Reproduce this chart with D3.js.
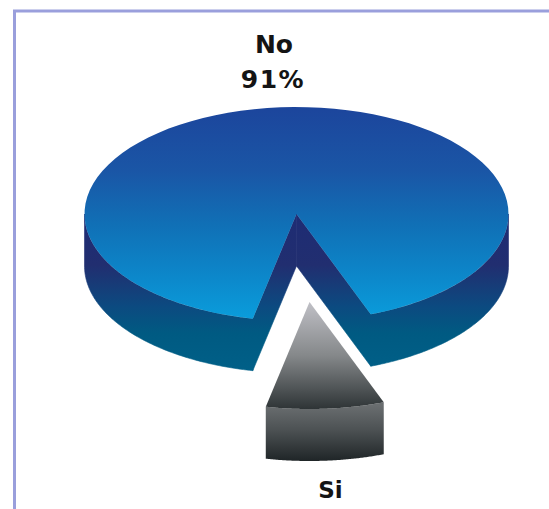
<!DOCTYPE html>
<html>
<head>
<meta charset="utf-8">
<style>
html,body{margin:0;padding:0;background:#fff}
svg{display:block}
text{font-family:"DejaVu Sans",Verdana,sans-serif;font-weight:700;fill:#141414}
</style>
<script src="https://cdn.jsdelivr.net/npm/d3@7/dist/d3.min.js"></script>
</head>
<body>
<svg id="chart" width="549" height="509"></svg>
<script>
// Answer shares
const categories = ["No", "Si"];
const shares = [91, 9];
const labels = ["No", "91%", "Si"];

// Disc geometry
const W = 549, H = 509;
const cx = 296.5, cy = 214, rx = 212, ry = 107, depth = 52;
const explode = {x: 13, y: 88};
const siOffset = 4.3 * Math.PI / 180; // the small slice leans this far right of the disc's front

const svg = d3.select("#chart");
const defs = svg.append("defs");

// Gradients are vertical, with stops given in each group's own coordinates
function gradient(id, y1, y2, stops) {
  const g = defs.append("linearGradient").attr("id", id)
    .attr("gradientUnits", "userSpaceOnUse")
    .attr("x1", 0).attr("x2", 0).attr("y1", y1).attr("y2", y2);
  stops.forEach(([o, c]) => g.append("stop").attr("offset", o).attr("stop-color", c));
}
gradient("noTop", -ry, ry, [[0, "#1c459c"], [0.3, "#1a56a6"], [0.55, "#1070b6"], [0.8, "#0c88cb"], [1, "#0a9edc"]]);
gradient("noWall", 0, ry + depth, [[0, "#1e2c74"], [0.32, "#212e70"], [0.58, "#0c4a80"], [0.75, "#005a82"], [1, "#006088"]]);
gradient("siTop", 0, ry, [[0, "#c0c0c6"], [0.5, "#85888a"], [1, "#2e3436"]]);
gradient("siWall", ry - 4, ry + depth, [[0, "#6a6e70"], [0.45, "#4c5153"], [1, "#1f2527"]]);

// Pie angles, arranged so the small slice sits at the front of the disc
const half = shares[1] / (shares[0] + shares[1]) * Math.PI;
const start = Math.PI - siOffset + half;
const pie = d3.pie().sort(null).value(d => d).startAngle(start).endAngle(start + 2 * Math.PI);
const [no, si] = pie(shares);

// Point on the disc rim for a d3 pie angle (0 = top, clockwise)
const px = a => rx * Math.sin(a);
const py = a => -ry * Math.cos(a);
const line = d3.line();

// Rim sampled between two angles, shifted down by dy
function rim(a0, a1, dy) {
  return d3.range(91).map(i => {
    const a = a0 + (a1 - a0) * i / 90;
    return [px(a), py(a) + dy];
  });
}
const wall = (a0, a1) => line(rim(a0, a1, 0).concat(rim(a1, a0, depth))) + "Z";
const face = (a0, a1) => line([[0, 0]].concat(rim(a0, a1, 0))) + "Z";
const inner = a => line([[0, 0], [px(a), py(a)], [px(a), py(a) + depth], [0, depth]]) + "Z";

// Large slice: only the front of the rim shows a wall, on either side of the gap.
// Each outer wall and its cut face share one path so no seam shows between them.
const gapRight = si.startAngle - 2 * Math.PI;
const gapLeft = si.endAngle - 2 * Math.PI;
const gNo = svg.append("g").attr("transform", `translate(${cx},${cy})`);
gNo.append("path").attr("d", wall(Math.PI / 2, gapRight) + inner(gapRight)).attr("fill", "url(#noWall)");
gNo.append("path").attr("d", wall(gapLeft, 3 * Math.PI / 2) + inner(gapLeft)).attr("fill", "url(#noWall)");
gNo.selectAll("path").attr("stroke", "url(#noWall)").attr("stroke-width", 0.6);
gNo.append("path").attr("d", face(no.startAngle, no.endAngle)).attr("fill", "url(#noTop)");

// Small slice, pulled out of the disc
const gSi = svg.append("g").attr("transform", `translate(${cx + explode.x},${cy + explode.y})`);
gSi.append("path").attr("d", wall(gapRight, gapLeft)).attr("fill", "url(#siWall)");
gSi.append("path").attr("d", face(gapRight, gapLeft)).attr("fill", "url(#siTop)");

// Frame
svg.append("path").attr("d", line([[14.5, H], [14.5, 11], [W, 11]]))
  .attr("fill", "none").attr("stroke", "#9a9fdc").attr("stroke-width", 3);

// Labels
const text = svg.append("g").attr("text-anchor", "middle");
text.append("text").attr("font-size", 25).attr("x", 274).attr("y", 53).text(labels[0]);
text.append("text").attr("font-size", 25).attr("letter-spacing", 1.5).attr("x", 273).attr("y", 88).text(labels[1]);
text.append("text").attr("font-size", 23).attr("x", 330.5).attr("y", 498).text(labels[2]);
</script>
</body>
</html>
